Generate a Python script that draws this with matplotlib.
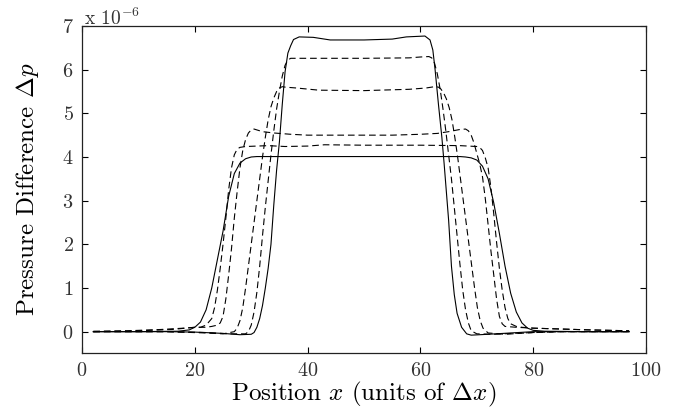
import matplotlib
matplotlib.use('Agg')
import matplotlib.pyplot as plt

plt.rcParams['font.family'] = 'serif'
plt.rcParams['font.serif'] = ['cmr10']
plt.rcParams['mathtext.fontset'] = 'cm'
plt.rcParams['axes.formatter.use_mathtext'] = True

# Pressure difference profiles (units of 1e-6)
# solid, wide profile with plateau at 4.0
x_a = [2, 10, 17, 19, 20, 21, 22, 23, 24, 25, 26, 27, 28, 29, 30, 31, 40, 50, 60, 67,
       68, 69, 70, 71, 72, 73, 74, 75, 76, 77, 78, 79, 80, 82, 90, 97]
y_a = [0, 0, 0.01, 0.04, 0.1, 0.22, 0.5, 1.0, 1.65, 2.3, 3.1, 3.62, 3.86, 3.96, 4.0, 4.01, 4.01, 4.01, 4.01, 4.01,
       4.0, 3.98, 3.93, 3.79, 3.5, 2.95, 2.25, 1.5, 0.88, 0.45, 0.2, 0.08, 0.03, 0.01, 0, 0]

# solid, narrow profile with plateau at 6.7
x_b = [2, 15, 20, 25, 28, 30, 30.5, 31, 31.5, 32, 32.5, 33, 33.5, 34, 34.5, 35, 35.5, 36, 36.5, 37,
       37.5, 38.5, 41, 44, 50, 55, 57.5, 60.8, 61.7, 62.2, 62.6, 63.2, 63.8, 64.2, 64.6, 65, 65.5, 66, 66.5, 67.3,
       68.2, 69, 72, 76, 80, 97]
y_b = [0, 0, -0.01, -0.04, -0.07, -0.06, -0.02, 0.1, 0.3, 0.6, 1.0, 1.45, 2.0, 2.9, 3.7, 4.35, 5.2, 5.95, 6.38, 6.55,
       6.69, 6.75, 6.74, 6.68, 6.68, 6.70, 6.75, 6.77, 6.68, 6.45, 6.0, 5.2, 4.45, 3.85, 3.2, 2.55, 1.5, 0.85, 0.42, 0.1,
       -0.05, -0.08, -0.06, -0.03, 0, 0]

# dashed profiles
x_d1 = [2, 8, 14, 18, 20, 21, 22, 23, 23.5, 24, 24.5, 25, 25.5, 26, 26.5, 27, 27.5, 28, 29, 33,
        36, 40, 43, 50, 60, 67, 70, 70.5, 71, 71.5, 72, 72.5, 73, 73.5, 74, 74.5, 75, 75.5, 76, 77,
        78, 80, 85, 90, 97]
y_d1 = [0.01, 0.02, 0.05, 0.08, 0.1, 0.1, 0.15, 0.3, 0.55, 0.95, 1.45, 2.0, 2.6, 3.25, 3.75, 4.05, 4.18, 4.22, 4.24, 4.26,
        4.24, 4.25, 4.28, 4.27, 4.27, 4.26, 4.24, 4.22, 4.15, 3.98, 3.75, 3.3, 2.7, 2.05, 1.45, 0.95, 0.55, 0.3, 0.18, 0.12,
        0.1, 0.08, 0.06, 0.04, 0.02]

x_d2 = [2, 10, 16, 20, 22, 23, 24, 24.5, 25, 25.5, 26, 26.5, 27, 27.5, 28, 28.5, 29, 29.5, 30, 30.5,
        31, 32, 34, 37, 40, 50, 55, 60, 63, 65, 67, 68, 68.5, 69, 69.5, 70, 70.5, 71, 71.5, 72,
        72.5, 73, 73.5, 74, 74.5, 75, 77, 80, 90, 97]
y_d2 = [0.0, 0.02, 0.05, 0.1, 0.1, 0.12, 0.15, 0.2, 0.35, 0.75, 1.3, 1.9, 2.6, 3.2, 3.75, 4.15, 4.4, 4.55, 4.62, 4.64,
        4.62, 4.58, 4.55, 4.52, 4.5, 4.5, 4.5, 4.52, 4.54, 4.58, 4.63, 4.64, 4.6, 4.5, 4.32, 4.08, 3.85, 3.55, 3.05, 2.45,
        1.85, 1.3, 0.75, 0.35, 0.18, 0.12, 0.1, 0.08, 0.04, 0.02]

x_d3 = [2, 15, 22, 25, 27, 27.5, 28, 28.5, 29, 29.5, 30, 30.5, 31, 31.5, 32, 32.5, 33, 33.5, 34, 34.5,
        35, 35.5, 36, 38, 42, 50, 58, 61, 62.5, 63.2, 63.6, 64.1, 64.6, 65.1, 65.6, 66.1, 66.6, 67.1, 67.6, 68.1,
        68.6, 69.1, 69.6, 70.1, 70.6, 71.1, 72, 75, 80, 85, 97]
y_d3 = [0, 0, -0.03, -0.05, 0.0, 0.08, 0.25, 0.55, 1.0, 1.5, 2.0, 2.5, 3.0, 3.5, 4.0, 4.45, 4.85, 5.15, 5.35, 5.5,
        5.58, 5.61, 5.6, 5.58, 5.53, 5.52, 5.55, 5.58, 5.61, 5.6, 5.56, 5.47, 5.33, 5.13, 4.85, 4.45, 4.0, 3.5, 3.0, 2.5,
        2.0, 1.5, 1.0, 0.55, 0.25, 0.08, -0.03, -0.06, -0.02, 0, 0]

x_d4 = [2, 15, 22, 26, 29, 29.5, 30, 30.5, 31, 31.5, 32, 32.5, 33, 33.5, 34, 34.5, 35, 35.5, 36, 36.5,
        37, 40, 50, 58, 60, 61.5, 62, 62.5, 63, 63.5, 64, 64.5, 65, 65.5, 66, 66.5, 67, 67.5, 68, 68.5,
        69, 70, 73, 78, 85, 97]
y_d4 = [0, 0, -0.02, -0.05, -0.05, 0.0, 0.15, 0.45, 0.9, 1.5, 2.2, 2.85, 3.45, 4.05, 4.6, 5.1, 5.5, 5.85, 6.1, 6.22,
        6.26, 6.26, 6.26, 6.27, 6.29, 6.3, 6.27, 6.15, 5.9, 5.55, 5.1, 4.6, 4.05, 3.5, 2.85, 2.2, 1.55, 0.95, 0.5, 0.2,
        0.02, -0.05, -0.06, -0.03, 0, 0]

x_ticks = [0, 20, 40, 60, 80, 100]
y_ticks = [0, 1, 2, 3, 4, 5, 6, 7]

fig = plt.figure(figsize=(6.74, 4.08), dpi=100)
ax = fig.add_axes([0.1217, 0.1336, 0.8368, 0.8027])

dash = (0, (6, 3.5))
for xs, ys in [(x_d1, y_d1), (x_d2, y_d2), (x_d3, y_d3), (x_d4, y_d4)]:
    ax.plot(xs, ys, color='black', linewidth=0.8, linestyle=dash)
ax.plot(x_a, y_a, color='black', linewidth=0.8)
ax.plot(x_b, y_b, color='black', linewidth=0.8)

ax.set_xlim(0, 100)
ax.set_ylim(-0.5, 7)
ax.set_xticks(x_ticks)
ax.set_yticks(y_ticks)
ax.tick_params(direction='in', length=4, width=0.8, top=True, right=True,
               labelsize=14.5, labelcolor='#333333', pad=6)
for spine in ax.spines.values():
    spine.set_linewidth(0.9)
    spine.set_color('#222222')

ax.set_xlabel(r'Position $x$ (units of $\Delta x$)', fontsize=18, labelpad=0)
ax.set_ylabel(r'Pressure Difference $\Delta p$', fontsize=18, labelpad=15)

# exponent shown beside the top tick label, MATLAB style
ax.text(0.003, 1.004, r'x $10^{-6}$', transform=ax.transAxes, ha='left', va='baseline',
        fontsize=14, color='#333333')

fig.savefig('out.png', dpi=100)
